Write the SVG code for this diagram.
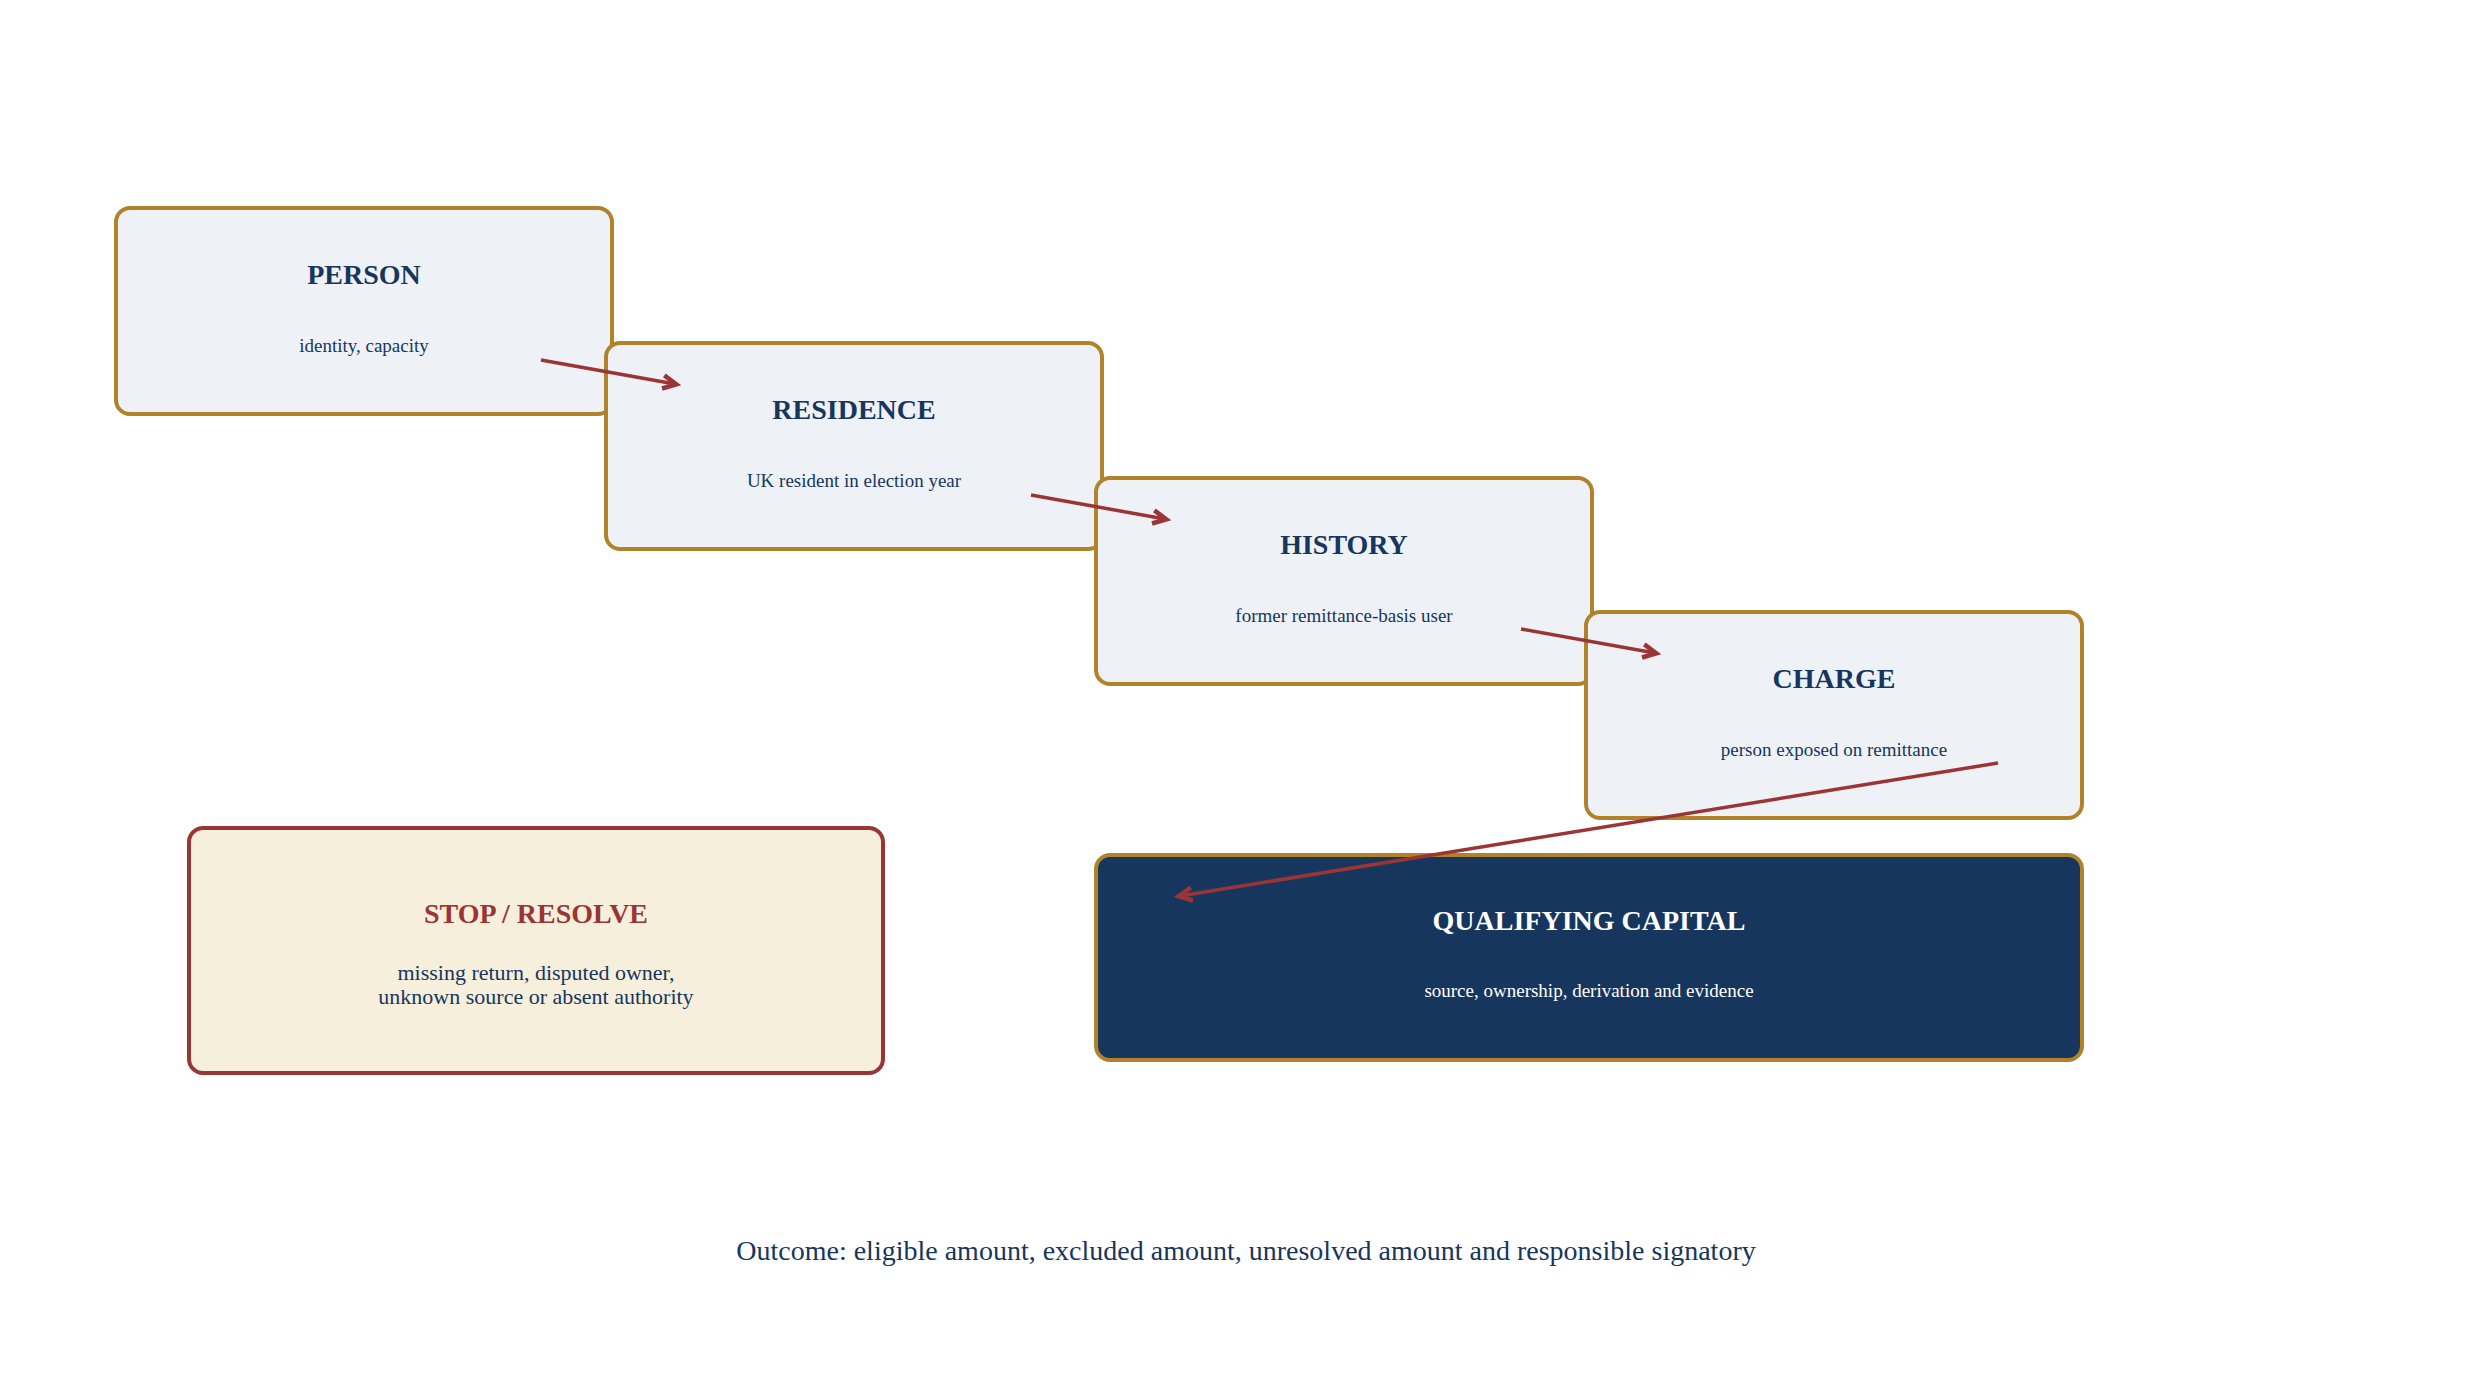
<svg xmlns="http://www.w3.org/2000/svg" width="2486" height="1386" viewBox="0 0 2486 1386">
<style>
.box{fill:#eef2f7;stroke:#b0832a;stroke-width:4}
.t{font-family:"Liberation Serif",serif;font-weight:bold;font-size:28px;fill:#17365d;text-anchor:middle}
.s{font-family:"Liberation Serif",serif;font-size:19px;fill:#17365d;text-anchor:middle}
.c{stroke:#9b3535;stroke-width:3.5;fill:none;marker-end:url(#a)}
</style>
<defs><marker id="a" viewBox="0 0 10 10" refX="9" refY="5" markerWidth="6" markerHeight="6" orient="auto" markerUnits="userSpaceOnUse" style="overflow:visible"><path d="M0,0 L10,5 L0,10" fill="none" stroke="#9b3535" stroke-width="3.5" transform="scale(2.2) translate(-5,-2.7)"/></marker></defs>
<rect width="2486" height="1386" fill="#fff"/>
<g id="person"><rect class="box" x="116" y="208" width="496" height="206" rx="14"/><text class="t" x="364" y="284">PERSON</text><text class="s" x="364" y="352">identity, capacity</text></g>
<g id="residence"><rect class="box" x="606" y="343" width="496" height="206" rx="14"/><text class="t" x="854" y="419">RESIDENCE</text><text class="s" x="854" y="487">UK resident in election year</text></g>
<g id="history"><rect class="box" x="1096" y="478" width="496" height="206" rx="14"/><text class="t" x="1344" y="554">HISTORY</text><text class="s" x="1344" y="622">former remittance-basis user</text></g>
<g id="charge"><rect class="box" x="1586" y="612" width="496" height="206" rx="14"/><text class="t" x="1834" y="688">CHARGE</text><text class="s" x="1834" y="756">person exposed on remittance</text></g>
<g id="qc"><rect x="1096" y="855" width="986" height="205" rx="14" fill="#17365d" stroke="#b0832a" stroke-width="4"/><text class="t" x="1589" y="930" fill="#fff" style="fill:#fff">QUALIFYING CAPITAL</text><text class="s" x="1589" y="997" style="fill:#fff">source, ownership, derivation and evidence</text></g>
<g id="stop"><rect x="189" y="828" width="694" height="245" rx="14" fill="#f5efdc" stroke="#9b3535" stroke-width="4"/><text class="t" x="536" y="923" style="fill:#9b3535">STOP / RESOLVE</text><text class="s" x="536" y="980" style="font-size:22px">missing return, disputed owner,</text><text class="s" x="536" y="1004" style="font-size:22px">unknown source or absent authority</text></g>
<g id="connectors">
<line class="c" x1="541" y1="360" x2="675" y2="384"/>
<line class="c" x1="1031" y1="495" x2="1165" y2="519"/>
<line class="c" x1="1521" y1="629" x2="1655" y2="653"/>
<line class="c" x1="1998" y1="763" x2="1180" y2="896"/>
</g>
<text x="1246" y="1260" font-family="Liberation Serif,serif" font-size="28" fill="#17365d" text-anchor="middle">Outcome: eligible amount, excluded amount, unresolved amount and responsible signatory</text>
</svg>
